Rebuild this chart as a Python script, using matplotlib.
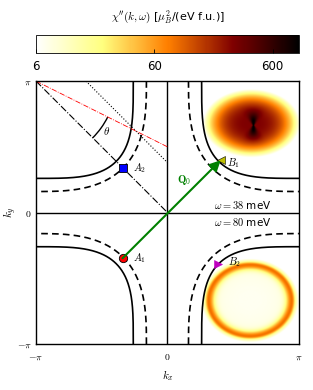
import numpy as np
import matplotlib
matplotlib.use("Agg")
import matplotlib.pyplot as plt
from matplotlib.colors import LogNorm
from matplotlib.patches import Arc

plt.rcParams['mathtext.fontset'] = 'cm'

# Fermi surface pockets around the (+-pi, +-pi) corners, in units of pi
fs_radius = [0.74, 0.84]        # solid, dashed
fs_exponent = [3.6, 2.9]
fs_style = ['-', '--']

# special k points (units of pi)
A1 = (-0.342, -0.348)
A2 = (-0.342, 0.336)
B1 = (0.405, 0.398)
B2 = (0.388, -0.388)

# chi'' maps: centre (kx, ky), semi-axes (units of pi)
top_center = (0.64, 0.68)
top_axes = (0.37, 0.26)
top_peak = 2.45          # log10 of value in the core
bot_center = (0.63, -0.67)
bot_axes = (0.36, 0.31)

cbar_ticks = [6, 60, 600]
vmin, vmax = 6, 1000

omega_labels = [r'$\omega=38$ meV', r'$\omega=80$ meV']


def corner_curve(sx, sy, r, n):
    t = np.linspace(0, np.pi / 2, 300)
    dx = r * np.cos(t) ** (2 / n)
    dy = r * np.sin(t) ** (2 / n)
    return np.pi * (sx - sx * dx), np.pi * (sy - sy * dy)


fig = plt.figure(figsize=(3.13, 3.90), dpi=100)
ax = fig.add_axes([0.115, 0.118, 0.840, 0.674])
cax = fig.add_axes([0.115, 0.864, 0.840, 0.046])

# chi'' maps on a grid (units of pi)
g = np.linspace(-1, 1, 500)
KX, KY = np.meshgrid(g, g)


# inside of the solid pocket (for clipping)
def inside(sx, sy):
    dx = np.abs(KX - sx)
    dy = np.abs(KY - sy)
    return dx ** fs_exponent[0] + dy ** fs_exponent[0] < fs_radius[0] ** fs_exponent[0]


# omega = 38 meV, top right
dx = KX - top_center[0]
dy = KY - top_center[1]
r = np.sqrt((dx / top_axes[0]) ** 2 + (dy / top_axes[1]) ** 2)
L1 = top_peak - (top_peak - 0.78) * r ** 3
bx = KX - 0.655
by = KY - 0.665
L1 += 0.65 * np.exp(-(bx / (0.006 + 0.5 * np.abs(by))) ** 2) * np.exp(-(by / 0.09) ** 2)
L1 = np.where(inside(1, 1) & (r < 1.05), L1, np.nan)

# omega = 80 meV, bottom right
dx = KX - bot_center[0]
dy = KY - bot_center[1]
r = np.sqrt((dx / bot_axes[0]) ** 2 + (dy / bot_axes[1]) ** 2)
s = np.where(r < 0.88, 0.13, 0.07)
L2 = 0.84 + 0.12 * r ** 2 + 1.02 * np.exp(-((r - 0.88) / s) ** 2) \
    - 60 * np.clip(r - 0.97, 0, None) ** 2
L2 = np.where(inside(1, -1) & (r < 1.2), L2, np.nan)

field = np.where(np.isnan(L1), L2, L1)
field = np.nan_to_num(field, nan=np.log10(vmin))
field = np.clip(field, np.log10(vmin), None)
img = ax.imshow(10 ** field, origin='lower', extent=[-np.pi, np.pi, -np.pi, np.pi],
                cmap='afmhot_r', norm=LogNorm(vmin, vmax), interpolation='bilinear', zorder=0)

# Fermi surface pockets
for r0, n, ls in zip(fs_radius, fs_exponent, fs_style):
    for sx in (-1, 1):
        for sy in (-1, 1):
            x, y = corner_curve(sx, sy, r0, n)
            if ls == '--':
                ax.plot(x, y, color='k', lw=1.2, ls=ls, dashes=(4, 2.5))
            else:
                ax.plot(x, y, color='k', lw=1.2, ls=ls)

ax.axhline(0, color='k', lw=1.0)
ax.axvline(0, color='k', lw=1.0)

# construction lines
pi = np.pi
ax.plot([-pi, 0], [pi, 0], color='k', lw=0.8, ls='-.')
ax.plot([-0.62 * pi, 0], [pi, 0.38 * pi], color='k', lw=0.8, ls=':')
ax.plot([-pi, 0], [pi, 0.5 * pi], color='red', lw=0.6, ls='-.')
ax.add_patch(Arc((-pi, pi), 2 * 0.61 * pi, 2 * 0.61 * pi, theta1=-45,
                 theta2=np.degrees(np.arctan2(-0.5, 1)), color='k', lw=1.0))
ax.text(-0.464 * pi, 0.62 * pi, r'$\theta$', fontsize=8, ha='center', va='center')

# Q0 arrow
ax.annotate('', xy=(B1[0] * pi, B1[1] * pi), xytext=(A1[0] * pi, A1[1] * pi),
            arrowprops=dict(arrowstyle='-|>', color='green', lw=1.5,
                            mutation_scale=16, shrinkA=0, shrinkB=0))
ax.text(0.125 * pi, 0.245 * pi, r'$\mathbf{Q}_0$', color='green', fontsize=8,
        ha='center', va='center')

# points
ax.plot(A1[0] * pi, A1[1] * pi, 'o', color='red', mec='k', mew=0.6, ms=6)
ax.plot(A2[0] * pi, A2[1] * pi, 's', color='blue', mec='k', mew=0.6, ms=6)
ax.plot(B1[0] * pi, B1[1] * pi, '<', color='y', mec='k', mew=0.4, ms=6)
ax.plot(B2[0] * pi, B2[1] * pi, '>', color='m', mec='m', mew=0.4, ms=6)
ax.text(A1[0] * pi + 0.08 * pi, A1[1] * pi, r'$A_1$', fontsize=7.5, va='center')
ax.text(A2[0] * pi + 0.08 * pi, A2[1] * pi, r'$A_2$', fontsize=7.5, va='center')
ax.text(B1[0] * pi + 0.05 * pi, B1[1] * pi - 0.02 * pi, r'$B_1$', fontsize=7.5, va='center')
ax.text(B2[0] * pi + 0.07 * pi, B2[1] * pi + 0.01 * pi, r'$B_2$', fontsize=7.5, va='center')

ax.text(0.357 * pi, 0.055 * pi, omega_labels[0], fontsize=7.5, va='center')
ax.text(0.357 * pi, -0.075 * pi, omega_labels[1], fontsize=7.5, va='center')

ax.set_xlim(-pi, pi)
ax.set_ylim(-pi, pi)
ax.set_xticks([-pi, 0, pi])
ax.set_xticklabels([r'$-\pi$', r'$0$', r'$\pi$'])
ax.set_yticks([-pi, 0, pi])
ax.set_yticklabels([r'$-\pi$', r'$0$', r'$\pi$'])
ax.tick_params(length=0, labelsize=7)
ax.tick_params(axis='x', pad=6)
ax.tick_params(axis='y', pad=3)
ax.set_xlabel(r'$k_x$', fontsize=8)
ax.set_ylabel(r'$k_y$', fontsize=8)
ax.xaxis.set_label_coords(0.5, -0.09)
ax.yaxis.set_label_coords(-0.065, 0.5)
for sp in ax.spines.values():
    sp.set_linewidth(1.0)

# colorbar
cb = fig.colorbar(img, cax=cax, orientation='horizontal')
cb.set_ticks(cbar_ticks)
cb.set_ticklabels([str(t) for t in cbar_ticks])
cb.ax.minorticks_off()
cb.ax.tick_params(direction='in', length=3, width=0.6, labelsize=8.5, pad=5)
cb.outline.set_linewidth(0.6)
fig.text(168 / 313, 1 - 17 / 390, r"$\chi''(k,\omega)$ [$\mu_B^2$/(eV f.u.)]",
         ha='center', va='center', fontsize=8)

fig.savefig('out.png', dpi=100)
